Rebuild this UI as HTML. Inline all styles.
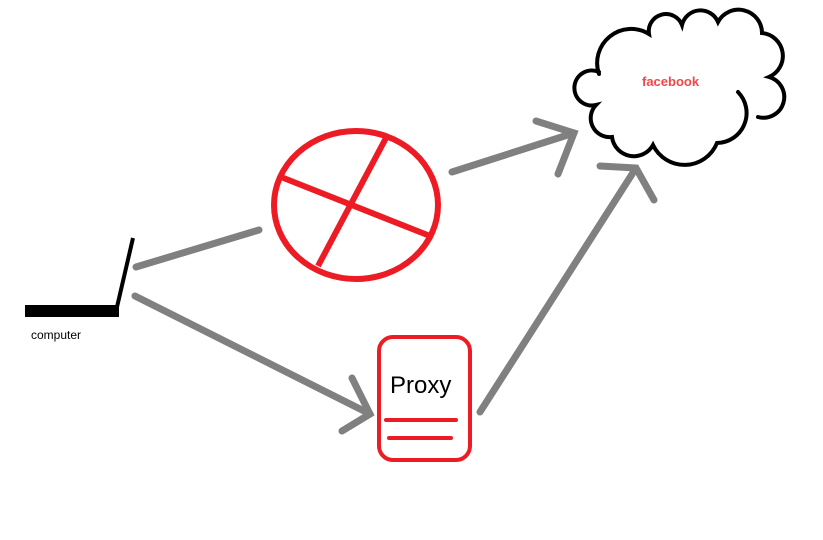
<!DOCTYPE html>
<html><head><style>body{margin:0;background:#fff}svg{display:block}</style></head><body>
<svg width="823" height="540" viewBox="0 0 823 540" xmlns="http://www.w3.org/2000/svg">
<rect x="0" y="0" width="823" height="540" fill="#fff"/>
<!-- laptop -->
<rect x="25" y="305" width="94" height="12" fill="#000"/>
<line x1="117" y1="307" x2="133" y2="238" stroke="#000" stroke-width="4"/>
<text x="31" y="339" font-family="Liberation Sans, sans-serif" font-size="12" fill="#000">computer</text>
<!-- arrows -->
<g stroke="#808080" stroke-width="7" stroke-linecap="round" fill="none">
<line x1="136" y1="267" x2="259" y2="230"/>
<line x1="452" y1="172" x2="574" y2="133"/>
<polyline points="536,121 574,133 558,174"/>
<line x1="135" y1="296" x2="370" y2="414"/>
<polyline points="352,378 370,414 342,431"/>
<line x1="480" y1="412" x2="636" y2="168"/>
<polyline points="600,166 636,168 654,200"/>
</g>
<!-- blocked circle -->
<g stroke="#ed1c24" stroke-width="6" fill="none">
<ellipse cx="356" cy="205" rx="82" ry="74"/>
<line x1="281" y1="177" x2="430" y2="236"/>
<line x1="386" y1="138" x2="318" y2="266"/>
</g>
<!-- proxy -->
<rect x="379" y="337" width="91" height="123" rx="14" fill="none" stroke="#ed1c24" stroke-width="4"/>
<line x1="386" y1="420" x2="456" y2="420" stroke="#ed1c24" stroke-width="4" stroke-linecap="round"/>
<line x1="389" y1="438" x2="451" y2="438" stroke="#ed1c24" stroke-width="4" stroke-linecap="round"/>
<text x="390" y="393" font-family="Liberation Sans, sans-serif" font-size="24" fill="#000">Proxy</text>
<!-- cloud -->
<path d="M599,74 A34,34 0 0 1 649,34 A17.2,17.2 0 0 1 682,25 A19,19 0 0 1 718,22 A23.4,23.4 0 0 1 762,33 A23,23 0 0 1 769,77 A20.7,20.7 0 0 1 758,117 M738,92 A30,30 0 0 1 717,143 A35,35 0 0 1 653,145 A22,22 0 0 1 612,137 A19,19 0 0 1 596,105 A17.5,17.5 0 1 1 599,72" fill="none" stroke="#000" stroke-width="4" stroke-linecap="round"/>
<text x="642" y="86" font-family="Liberation Sans, sans-serif" font-size="13" font-weight="bold" fill="#f04848">facebook</text>
</svg>
</body></html>
